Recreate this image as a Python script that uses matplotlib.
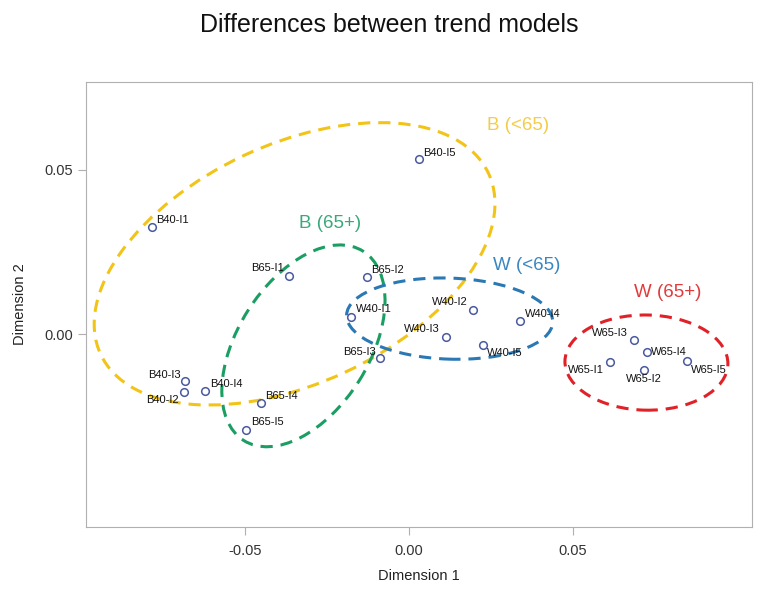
import matplotlib.pyplot as plt
from matplotlib.patches import Ellipse

plt.rcParams["font.family"] = ["Liberation Sans", "DejaVu Sans"]

# points (dimension 1, dimension 2)
names = ["B40-I1", "B40-I2", "B40-I3", "B40-I4", "B40-I5",
         "B65-I1", "B65-I2", "B65-I3", "B65-I4", "B65-I5",
         "W40-I1", "W40-I2", "W40-I3", "W40-I4", "W40-I5",
         "W65-I1", "W65-I2", "W65-I3", "W65-I4", "W65-I5"]
dim1 = [-0.0784, -0.0686, -0.0683, -0.0621, 0.0030,
        -0.0366, -0.0129, -0.0088, -0.0452, -0.0497,
        -0.0177, 0.0194, 0.0112, 0.0338, 0.0225,
        0.0613, 0.0716, 0.0687, 0.0727, 0.0847]
dim2 = [0.0326, -0.0178, -0.0143, -0.0173, 0.0534,
        0.0177, 0.0175, -0.0073, -0.0211, -0.0293,
        0.0053, 0.0073, -0.0008, 0.0041, -0.0034,
        -0.0084, -0.0110, -0.0018, -0.0056, -0.0081]

# group ellipses
groups = ["B (<65)", "B (65+)", "W (<65)", "W (65+)"]
ell_x = [-0.0349, -0.0322, 0.0124, 0.0724]
ell_y = [0.0214, -0.0036, 0.0047, -0.0087]
ell_w = [0.1305, 0.0682, 0.0629, 0.0497]
ell_h = [0.0729, 0.0401, 0.0247, 0.0290]
ell_angle = [25, 57.7, -2, -1]
group_lx = [0.0332, -0.0241, 0.0360, 0.0790]
group_ly = [0.0637, 0.0338, 0.0210, 0.0128]

ell_colors = ["#f2c418", "#1a9e62", "#2a78b4", "#e02228"]
text_colors = ["#f4cc4a", "#3aa97a", "#3a86c0", "#e23a3a"]

# label offsets in pixels (dx, dy, ha)
offsets = {
    "B40-I1": (4, 7, "left"), "B40-I2": (-5, -8, "right"),
    "B40-I3": (-4, 6, "right"), "B40-I4": (5, 7, "left"),
    "B40-I5": (4, 6, "left"), "B65-I1": (-5, 8, "right"),
    "B65-I2": (4, 7, "left"), "B65-I3": (-4, 6, "right"),
    "B65-I4": (4, 7, "left"), "B65-I5": (5, 8, "left"),
    "W40-I1": (5, 8, "left"), "W40-I2": (-5, 8, "right"),
    "W40-I3": (-6, 8, "right"), "W40-I4": (5, 7, "left"),
    "W40-I5": (4, -8, "left"), "W65-I1": (-6, -8, "right"),
    "W65-I2": (0, -9, "center"), "W65-I3": (-6, 7, "right"),
    "W65-I4": (4, 0, "left"), "W65-I5": (4, -9, "left"),
}

fig = plt.figure(figsize=(7.64, 5.93), dpi=100)
ax = fig.add_axes([0.1126, 0.1113, 0.8717, 0.7504])

for i in range(len(groups)):
    e = Ellipse((ell_x[i], ell_y[i]), ell_w[i], ell_h[i], angle=ell_angle[i],
                fill=False, edgecolor=ell_colors[i], lw=2.2,
                linestyle=(0, (4, 2.6)), zorder=2)
    ax.add_patch(e)
    ax.text(group_lx[i], group_ly[i], groups[i], color=text_colors[i],
            fontsize=13.5, ha="center", va="center")

ax.plot(dim1, dim2, "o", ms=5.5, mfc="none", mec="#4a5aa0", mew=1.1, zorder=3)
for n, x, y in zip(names, dim1, dim2):
    dx, dy, ha = offsets[n]
    ax.annotate(n, (x, y), xytext=(dx, dy), textcoords="offset pixels",
                ha=ha, va="center", fontsize=8, color="#111111", zorder=4)

ax.set_xlim(-0.0985, 0.1046)
ax.set_ylim(-0.0588, 0.0768)
ax.set_xticks([-0.05, 0.0, 0.05])
ax.set_yticks([0.0, 0.05])
ax.set_xticklabels(["-0.05", "0.00", "0.05"])
ax.set_yticklabels(["0.00", "0.05"])
for s in ax.spines.values():
    s.set_color("#b0b0b0")
ax.tick_params(colors="#b0b0b0", labelcolor="#333333", labelsize=10.5, length=6)
ax.tick_params(axis="x", pad=6)
ax.set_xlabel("Dimension 1", fontsize=10.5, color="#222222", labelpad=8)
ax.set_ylabel("Dimension 2", fontsize=10.5, color="#222222", labelpad=12)
fig.text(0.51, 0.957, "Differences between trend models", fontsize=18,
         ha="center", va="center", color="#111111")

fig.savefig("out.png", dpi=100)
